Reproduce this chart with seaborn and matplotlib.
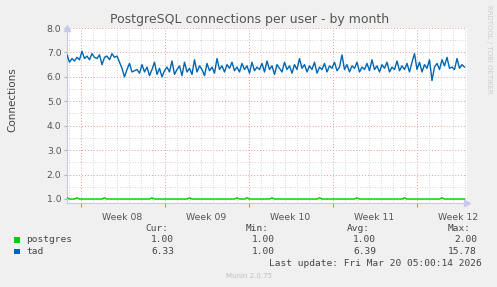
import numpy as np
import pandas as pd
import matplotlib
matplotlib.use("Agg")
import matplotlib.pyplot as plt
import seaborn as sns

# ---- data ----
start = pd.Timestamp("2026-02-14 21:00")
step_hours = 5

tad = [6.9, 6.6, 6.75, 6.65, 6.8, 6.7, 7.05, 6.75, 6.85, 6.7, 6.95, 6.8, 6.75, 6.9, 6.5, 6.8,
       6.85, 6.7, 6.95, 6.8, 6.85, 6.6, 6.35, 6.0, 6.3, 6.55, 6.2, 6.25, 6.3, 6.15, 6.5, 6.2,
       6.4, 6.05, 6.3, 6.6, 6.1, 6.35, 6.0, 6.25, 6.4, 6.2, 6.65, 6.1, 6.3, 6.45, 6.05, 6.6,
       6.2, 6.35, 6.1, 6.7, 6.2, 6.45, 6.3, 6.05, 6.55, 6.25, 6.4, 6.15, 6.75, 6.3, 6.45, 6.2,
       6.5, 6.35, 6.6, 6.25, 6.4, 6.2, 6.55, 6.3, 6.45, 6.15, 6.6, 6.25, 6.4, 6.3, 6.55, 6.2,
       6.65, 6.3, 6.45, 6.1, 6.5, 6.35, 6.2, 6.6, 6.3, 6.45, 6.15, 6.5, 6.3, 6.75, 6.35, 6.5,
       6.2, 6.45, 6.3, 6.6, 6.15, 6.4, 6.3, 6.55, 6.2, 6.45, 6.35, 6.6, 6.25, 6.4, 6.9, 6.3,
       6.5, 6.2, 6.45, 6.35, 6.6, 6.2, 6.4, 6.3, 6.55, 6.25, 6.7, 6.3, 6.45, 6.2, 6.5, 6.35,
       6.6, 6.2, 6.4, 6.3, 6.65, 6.25, 6.45, 6.3, 6.55, 6.2, 6.6, 6.95, 6.3, 6.6, 6.2, 6.5,
       6.35, 6.7, 5.85, 6.4, 6.55, 6.3, 6.7, 6.45, 6.8, 6.35, 6.4, 6.3, 6.75, 6.35, 6.5, 6.4]

postgres = [1.05, 1.0, 1.0, 1.0, 1.05, 1.0, 1.0, 1.0, 1.0, 1.0, 1.0, 1.0, 1.0, 1.0, 1.0, 1.05,
            1.0, 1.0, 1.0, 1.0, 1.0, 1.0, 1.0, 1.0, 1.0, 1.0, 1.0, 1.0, 1.0, 1.0, 1.0, 1.0,
            1.0, 1.0, 1.05, 1.0, 1.0, 1.0, 1.0, 1.0, 1.0, 1.0, 1.0, 1.0, 1.0, 1.0, 1.0, 1.0,
            1.0, 1.05, 1.0, 1.0, 1.0, 1.0, 1.0, 1.0, 1.0, 1.0, 1.0, 1.0, 1.0, 1.0, 1.0, 1.0,
            1.0, 1.0, 1.0, 1.0, 1.05, 1.0, 1.0, 1.0, 1.05, 1.0, 1.0, 1.0, 1.0, 1.0, 1.0, 1.0,
            1.0, 1.0, 1.05, 1.0, 1.0, 1.0, 1.0, 1.0, 1.0, 1.0, 1.0, 1.0, 1.0, 1.0, 1.0, 1.0,
            1.0, 1.0, 1.0, 1.0, 1.0, 1.05, 1.0, 1.0, 1.0, 1.0, 1.0, 1.0, 1.0, 1.0, 1.0, 1.0,
            1.0, 1.0, 1.0, 1.0, 1.05, 1.0, 1.0, 1.0, 1.0, 1.0, 1.0, 1.0, 1.0, 1.0, 1.0, 1.0,
            1.0, 1.0, 1.0, 1.0, 1.0, 1.0, 1.0, 1.05, 1.0, 1.0, 1.0, 1.0, 1.0, 1.0, 1.0, 1.0,
            1.0, 1.0, 1.0, 1.0, 1.0, 1.0, 1.05, 1.0, 1.0, 1.0, 1.0, 1.0, 1.0, 1.0, 1.0, 1.0]

series_names = ["postgres", "tad"]
series_colors = ["#00CC00", "#0066B3"]
cur_vals = ["1.00", "6.33"]
min_vals = ["1.00", "1.00"]
avg_vals = ["1.00", "6.39"]
max_vals = ["2.00", "15.78"]
week_labels = ["Week 08", "Week 09", "Week 10", "Week 11", "Week 12"]
week_mondays = ["2026-02-16", "2026-02-23", "2026-03-02", "2026-03-09", "2026-03-16"]
title = "PostgreSQL connections per user - by month"
ylabel = "Connections"
last_update = "Last update: Fri Mar 20 05:00:14 2026"
x_start = "2026-02-14 21:00"
x_end = "2026-03-20 05:00"

# ---- build frame ----
times = [start + pd.Timedelta(hours=step_hours * i) for i in range(len(tad))]
df = pd.DataFrame({
    "time": times * 2,
    "value": postgres + tad,
    "user": ["postgres"] * len(postgres) + ["tad"] * len(tad),
})

W, H = 497, 287
fig = plt.figure(figsize=(W / 100, H / 100), dpi=100, facecolor="#F0F0F0")
ax = fig.add_axes([67 / W, 1 - 203 / H, 400 / W, 175 / H])
ax.set_facecolor("white")

sns.lineplot(data=df, x="time", y="value", hue="user", palette=dict(zip(series_names, series_colors)),
             linewidth=1.0, ax=ax, legend=False, zorder=3)

ax.set_xlim(pd.Timestamp(x_start), pd.Timestamp(x_end))
ax.set_ylim(0.836, 8.0)

# grids
minor_grid = dict(color="#C8C8C8", linestyle=(0, (1, 2)), linewidth=0.6)
major_grid = dict(color="#E89898", linestyle=(0, (1, 2)), linewidth=0.7)
for y in np.arange(1.5, 8.0, 1.0):
    ax.axhline(y, **minor_grid, zorder=1)
for y in np.arange(1.0, 8.01, 1.0):
    ax.axhline(y, **major_grid, zorder=1)
days = pd.date_range("2026-02-15", "2026-03-20", freq="D")
mondays = pd.to_datetime(week_mondays)
for d in days:
    if d not in mondays:
        ax.axvline(d, **minor_grid, zorder=1)
for d in mondays:
    ax.axvline(d, **major_grid, zorder=1)

# ticks
ax.set_yticks(np.arange(1.0, 8.01, 1.0))
ax.set_yticklabels([f"{v:.1f}" for v in np.arange(1.0, 8.01, 1.0)])
ax.tick_params(axis="y", length=2, colors="#B0B0B0", labelcolor="#555555", labelsize=6.7, pad=2)
ax.set_xticks(mondays)
ax.set_xticklabels([])
ax.tick_params(axis="x", length=3, colors="#E08080", direction="out")
for m, lab in zip(mondays, week_labels):
    ax.text(m + pd.Timedelta(hours=84), -0.06, lab, transform=ax.get_xaxis_transform(),
            ha="center", va="top", fontsize=6.7, color="#555555")

for s in ["top", "right"]:
    ax.spines[s].set_visible(False)
for s in ["left", "bottom"]:
    ax.spines[s].set_color("#C8C8EE")
    ax.spines[s].set_linewidth(0.8)
ax.plot([0], [1.0], marker="^", color="#C8C8EE", markersize=4, transform=ax.transAxes, clip_on=False)
ax.plot([1.0], [0], marker=">", color="#C8C8EE", markersize=4, transform=ax.transAxes, clip_on=False)
ax.set_xlabel("")
ax.set_ylabel("")

# texts
fig.text(250 / W, 1 - 19 / H, title, ha="center", va="center", fontsize=9, color="#555555")
fig.text(12 / W, 1 - 100 / H, ylabel, rotation=90, ha="center", va="center", fontsize=7.5, color="#444444")
fig.text(489 / W, 1 - 5 / H, "RRDTOOL / TOBI OETIKER", rotation=-90, ha="center", va="top",
         fontsize=5, color="#CCCCCC")

mono = "DejaVu Sans Mono"
tc = "#444444"
fs = 6.8
hy = 1 - 228.5 / H
fig.text(168 / W, hy, "Cur:", ha="right", va="center", family=mono, fontsize=fs, color=tc)
fig.text(269 / W, hy, "Min:", ha="right", va="center", family=mono, fontsize=fs, color=tc)
fig.text(370 / W, hy, "Avg:", ha="right", va="center", family=mono, fontsize=fs, color=tc)
fig.text(471 / W, hy, "Max:", ha="right", va="center", family=mono, fontsize=fs, color=tc)
for i, (name, col) in enumerate(zip(series_names, series_colors)):
    yy = 1 - (240 + 11.5 * i) / H
    fig.patches.append(plt.Rectangle((14 / W, yy - 2.5 / H), 5.5 / W, 5.5 / H, transform=fig.transFigure,
                                     facecolor=col, edgecolor="none"))
    fig.text(26 / W, yy, name, ha="left", va="center", family=mono, fontsize=fs, color=tc)
    fig.text(174 / W, yy, cur_vals[i], ha="right", va="center", family=mono, fontsize=fs, color=tc)
    fig.text(275 / W, yy, min_vals[i], ha="right", va="center", family=mono, fontsize=fs, color=tc)
    fig.text(376 / W, yy, avg_vals[i], ha="right", va="center", family=mono, fontsize=fs, color=tc)
    fig.text(477 / W, yy, max_vals[i], ha="right", va="center", family=mono, fontsize=fs, color=tc)
fig.text(482 / W, 1 - 263.5 / H, last_update, ha="right", va="center", family=mono, fontsize=fs, color=tc)
fig.text(249 / W, 1 - 276 / H, "Munin 2.0.75", ha="center", va="center", fontsize=5, color="#C0C0C0")

fig.savefig("out.png", dpi=100, facecolor=fig.get_facecolor())
